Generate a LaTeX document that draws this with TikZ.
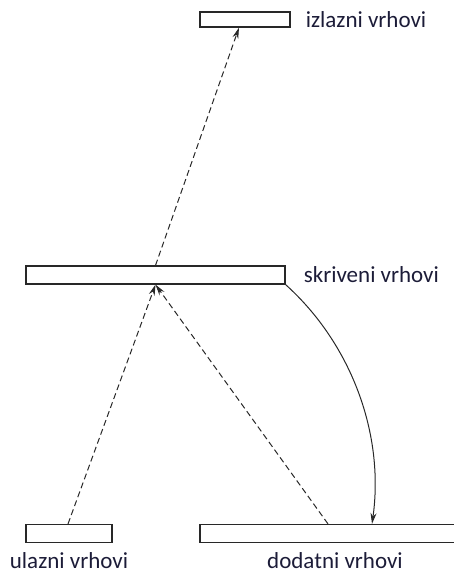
\documentclass[tikz,border=0pt]{standalone}
\usepackage{fontspec}
\setmainfont{Carlito}
\usetikzlibrary{arrows.meta,positioning}
\definecolor{labelcolor}{RGB}{28,28,56}
\definecolor{linecolor}{RGB}{40,40,40}
\tikzset{
  layer/.style   = {draw=linecolor,line width=1.2pt,fill=white,inner sep=0pt,
                    minimum height=18pt},
  lbl/.style     = {font=\fontsize{23}{27}\selectfont,text=labelcolor,inner sep=0pt},
  dasharrow/.style = {-{Stealth[length=11pt,width=6pt]},line width=1pt,
                    dash pattern=on 6pt off 3.5pt,color=linecolor},
  solidarrow/.style = {-{Stealth[length=11pt,width=6pt]},line width=1pt,color=linecolor},
}
\begin{document}
\begin{tikzpicture}[x=1pt,y=-1pt]
  \useasboundingbox (0,0) rectangle (454,574);
  % layers
  \node[layer,minimum width=90pt,minimum height=15pt] (izlaz) at (245,19.5) {};
  \node[layer,minimum width=259pt] (skriveni) at (155.5,275) {};
  \node[layer,minimum width=86pt] (ulaz) at (69,533.5) {};
  \node[layer,minimum width=262pt] (dodatni) at (331,533.5) {};
  % labels
  \node[lbl,right=15pt of izlaz] {izlazni vrhovi};
  \node[lbl,right=18pt of skriveni] {skriveni vrhovi};
  \node[lbl,below=9pt of ulaz] {ulazni vrhovi};
  \node[lbl,below=9pt of dodatni,xshift=4pt] {dodatni vrhovi};
  % connections
  \draw[dasharrow] (skriveni.north) -- ([xshift=-6pt]izlaz.south);
  \draw[dasharrow] ([xshift=-1pt]ulaz.north) -- (skriveni.south);
  \draw[dasharrow] ([xshift=-3pt]dodatni.north) -- (skriveni.south);
  \draw[solidarrow] (skriveni.south east) to[out=-42,in=82,looseness=0.9]
    ([xshift=41pt]dodatni.north);
\end{tikzpicture}
\end{document}
